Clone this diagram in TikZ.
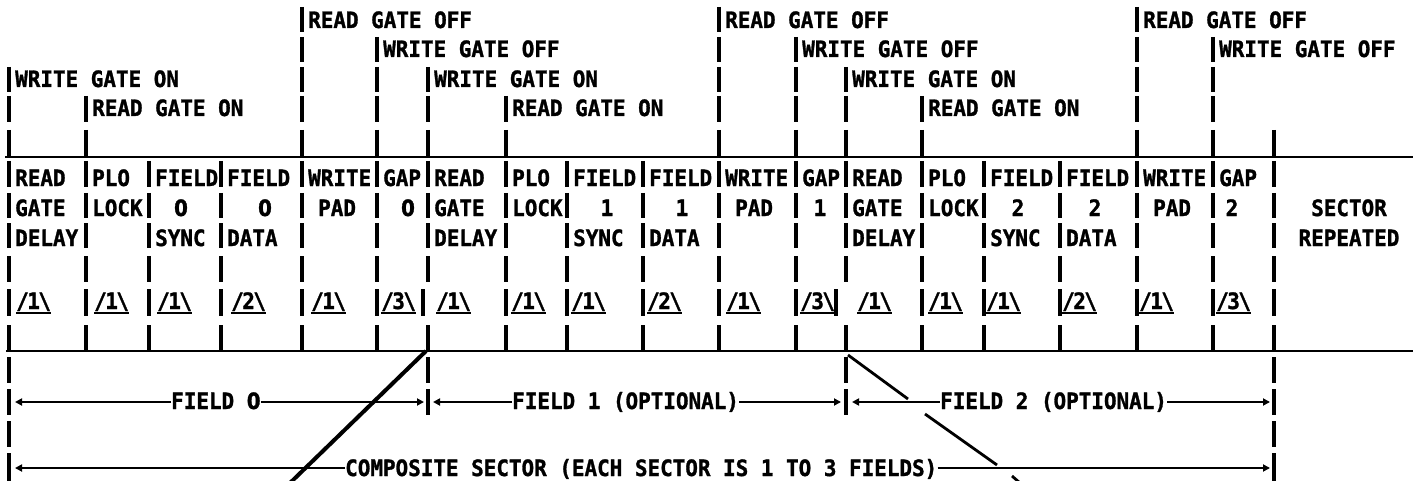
\documentclass[tikz,border=0pt]{standalone}
\usepackage{fontspec}
\newfontfamily\dia{DejaVu Sans Mono}[FakeStretch=0.93, BoldFeatures={FakeBold=1.3}]
\newfontfamily\diaz{DejaVu Sans}[FakeStretch=0.88, BoldFeatures={FakeBold=1.3}]
\usetikzlibrary{arrows.meta,calc}
\newcommand\notelbl[1]{/\kern-1.5pt#1\kern-1.5pt\textbackslash}
\newcommand\digit[1]{\ifnum#1=0 {\diaz 0}\else #1\fi}
\begin{document}
\begin{tikzpicture}[x=1pt,y=-1pt,
  lbl/.style={anchor=base west, inner sep=0pt, font=\dia\bfseries\fontsize{22.5}{22.5}\selectfont},
  clbl/.style={lbl, anchor=base},
  bar/.style={line width=3.2pt},
  rule/.style={line width=2.8pt},
  uline/.style={line width=2.2pt},
  arr/.style={line width=2pt, -{Triangle[length=7pt,width=7pt]}},
  diag/.style={line width=4pt},
  diagthin/.style={line width=2.8pt},
]
\fill[white] (0,0) rectangle (1413,481);
\useasboundingbox (0,0) rectangle (1413,481);

% horizontal rules
\coordinate (r1a) at (5,157); \coordinate (r1b) at (1413,157);
\coordinate (r2a) at (6,351); \coordinate (r2b) at (1413,351);
\draw[rule] (r1a) -- (r1b);
\draw[rule] (r2a) -- (r2b);

% ---- top event bars ----
\foreach \x/\r in {302/1,377/2,9/3,428/3,86/4,506/4,719/1,796/2,846/3,922/4,1137/1,1213/2,1274/5}{
  \foreach \a/\b/\i in {7/32/1,37/62/2,67/92/3,96/122/4,130/157/5}{
    \ifnum\i<\r\relax\else\draw[bar] (\x,\a) -- (\x,\b);\fi
  }
}
% ---- top event labels ----
\node[lbl] (rgoff1) at (308,28) {READ GATE OFF};
\node[lbl] (rgoff2) at (725,28) {READ GATE OFF};
\node[lbl] (rgoff3) at (1143,28) {READ GATE OFF};
\node[lbl] (wgoff1) at (383,57) {WRITE GATE OFF};
\node[lbl] (wgoff2) at (802,57) {WRITE GATE OFF};
\node[lbl] (wgoff3) at (1219,57) {WRITE GATE OFF};
\node[lbl] (wgon1) at (15,87) {WRITE GATE ON};
\node[lbl] (wgon2) at (434,87) {WRITE GATE ON};
\node[lbl] (wgon3) at (852,87) {WRITE GATE ON};
\node[lbl] (rgon1) at (92,116) {READ GATE ON};
\node[lbl] (rgon2) at (512,116) {READ GATE ON};
\node[lbl] (rgon3) at (928,116) {READ GATE ON};

% ---- table bars ----
\foreach \x in {9,86,149,221,302,377,428,506,567,643,719,796,846,922,984,1060,1137,1213,1274}{
  \foreach \a/\b in {161/187,193/218,223/248,256/282,325/351}{
    \draw[bar] (\x,\a) -- (\x,\b);
  }
}
\foreach \x in {9,86,149,221,302,377,423,506,567,643,719,796,836,922,984,1060,1137,1213,1274}{
  \draw[bar] (\x,289) -- (\x,316);
}

% ---- table texts ----
\foreach \k/\a/\b/\c/\d/\e/\f/\dc/\dd/\dg in {0/9/86/149/221/302/377/181/265/408,1/428/506/567/643/719/796/607/682/820,2/846/922/984/1060/1137/1213/1018/1095/1232}{
  \node[lbl] (read\k) at (\a+6,186) {READ};
  \node[lbl] (plo\k) at (\b+6,186) {PLO};
  \node[lbl] (fa\k) at (\c+6,186) {FIELD};
  \node[lbl] (fb\k) at (\d+6,186) {FIELD};
  \node[lbl] (write\k) at (\e+6,186) {WRITE};
  \node[lbl] (gap\k) at (\f+6,186) {GAP};
  \node[lbl] (gate\k) at (\a+6,216) {GATE};
  \node[lbl] (lock\k) at (\b+6,216) {LOCK};
  \node[clbl] (na\k) at (\dc,216) {\digit{\k}};
  \node[clbl] (nb\k) at (\dd,216) {\digit{\k}};
  \node[lbl] (pad\k) at (\e+16,216) {PAD};
  \node[clbl] (ng\k) at (\dg,216) {\digit{\k}};
  \node[lbl] (delay\k) at (\a+6,246) {DELAY};
  \node[lbl] (sync\k) at (\c+6,246) {SYNC};
  \node[lbl] (data\k) at (\d+6,246) {DATA};
}
\node[clbl] (sector) at (1349,216) {SECTOR};
\node[clbl] (repeated) at (1349,246) {REPEATED};

% ---- note references ----
\coordinate (ul) at (0,313);
\foreach \s/\n [count=\i] in {16/1,94/1,157/1,231/2,311/1,381/3,436/1,511/1,571/1,647/2,726/1,800/3,857/1,928/1,986/1,1062/2,1139/1,1216/3}{
  \node[lbl] (note\i) at (\s,309) {\notelbl{\n}};
  \draw[uline] (note\i.base west |- ul) -- (note\i.base east |- ul);
}

% ---- bottom bars ----
\foreach \x/\m in {9/4,428/2,846/2,1274/4}{
  \foreach \a/\b/\i in {357/383/1,389/415/2,421/447/3,453/482/4}{
    \ifnum\i>\m\relax\else\draw[bar] (\x,\a) -- (\x,\b);\fi
  }
}

% ---- field spans ----
\node[lbl] (f0) at (171,409) {FIELD \digit{0}};
\node[lbl] (f1) at (512,409) {FIELD 1 (OPTIONAL)};
\node[lbl] (f2) at (940,409) {FIELD 2 (OPTIONAL)};
\node[lbl] (comp) at (345,476) {COMPOSITE SECTOR (EACH SECTOR IS 1 TO 3 FIELDS)};
\coordinate (f0l) at (15,402);  \coordinate (f0r) at (424,402);
\coordinate (f1l) at (433,402); \coordinate (f1r) at (841,402);
\coordinate (f2l) at (852,402); \coordinate (f2r) at (1270,402);
\coordinate (cl) at (15,468);   \coordinate (cr) at (1270,468);
\draw[arr] (f0.west |- f0l) -- (f0l);
\draw[arr] (f0.east |- f0r) -- (f0r);
\draw[arr] (f1.west |- f1l) -- (f1l);
\draw[arr] (f1.east |- f1r) -- (f1r);
\draw[arr] (f2.west |- f2l) -- (f2l);
\draw[arr] (f2.east |- f2r) -- (f2r);
\draw[arr] (comp.west |- cl) -- (cl);
\draw[arr] (comp.east |- cr) -- (cr);

% ---- diagonal strokes ----
\coordinate (d1a) at (426,351); \coordinate (d1b) at (290,483);
\draw[diag] (d1a) -- (d1b);
\coordinate (d2a) at (848,355); \coordinate (d2b) at (908,399);
\coordinate (d2c) at (925,414); \coordinate (d2d) at (997,465);
\coordinate (d2e) at (1012,476); \coordinate (d2f) at (1020,483);
\draw[diagthin] (d2a) -- (d2b);
\draw[diagthin] (d2c) -- (d2d);
\draw[diagthin] (d2e) -- (d2f);
\end{tikzpicture}
\end{document}
